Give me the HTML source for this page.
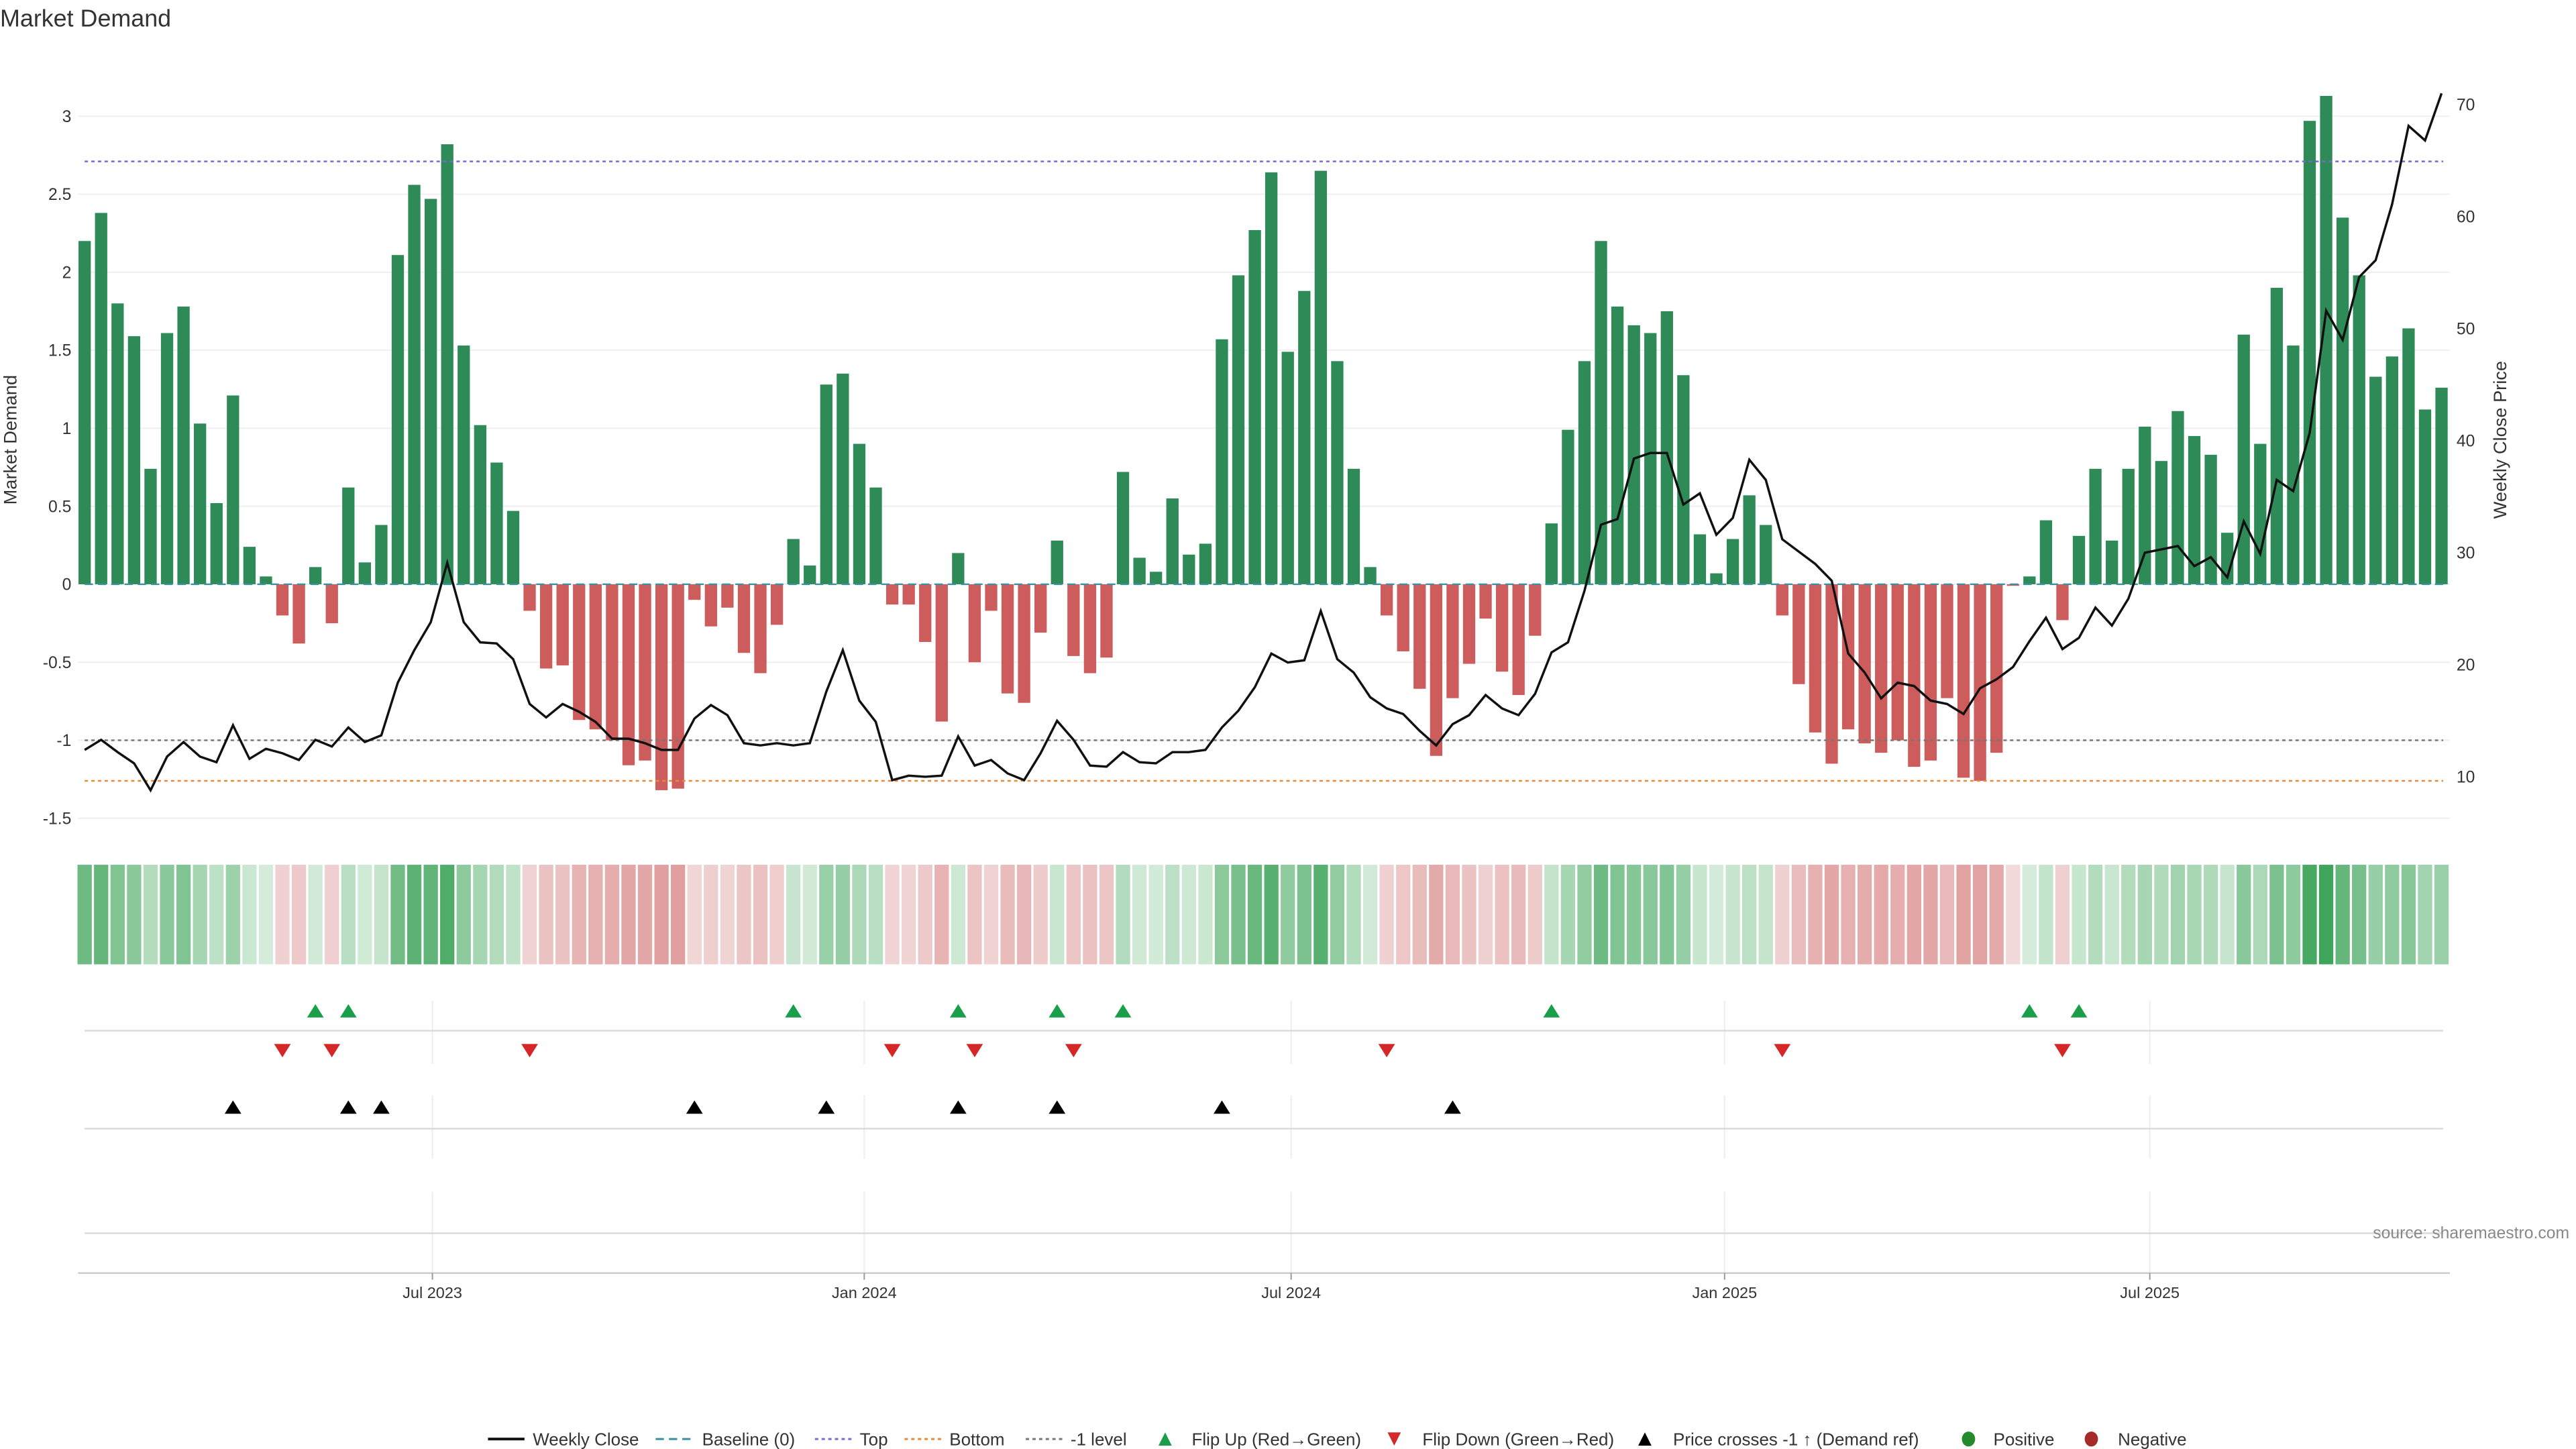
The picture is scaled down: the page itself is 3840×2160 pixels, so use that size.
<!DOCTYPE html>
<html><head><meta charset="utf-8"><style>
html,body{margin:0;padding:0;background:#fff;}
svg{display:block;font-family:"Liberation Sans","DejaVu Sans",sans-serif;}
</style></head><body>
<svg id="chart" width="3840" height="2160" viewBox="0 0 1552 873" xmlns="http://www.w3.org/2000/svg">
<text x="0" y="16" font-size="14.5" fill="#333">Market Demand</text>
<g id="grid"></g><g id="bars"></g><g id="lines"></g><g id="heat"></g><g id="panels"></g><g id="axes"></g><g id="legend"></g>
<text x="1548" y="746" font-size="10" fill="#888" text-anchor="end">source: sharemaestro.com</text>
</svg>
<script>
const demand=[2.2,2.38,1.8,1.59,0.74,1.61,1.78,1.03,0.52,1.21,0.24,0.05,-0.2,-0.38,0.11,-0.25,0.62,0.14,0.38,2.11,2.56,2.47,2.82,1.53,1.02,0.78,0.47,-0.17,-0.54,-0.52,-0.87,-0.93,-1.0,-1.16,-1.13,-1.32,-1.31,-0.1,-0.27,-0.15,-0.44,-0.57,-0.26,0.29,0.12,1.28,1.35,0.9,0.62,-0.13,-0.13,-0.37,-0.88,0.2,-0.5,-0.17,-0.7,-0.76,-0.31,0.28,-0.46,-0.57,-0.47,0.72,0.17,0.08,0.55,0.19,0.26,1.57,1.98,2.27,2.64,1.49,1.88,2.65,1.43,0.74,0.11,-0.2,-0.43,-0.67,-1.1,-0.73,-0.51,-0.22,-0.56,-0.71,-0.33,0.39,0.99,1.43,2.2,1.78,1.66,1.61,1.75,1.34,0.32,0.07,0.29,0.57,0.38,-0.2,-0.64,-0.95,-1.15,-0.93,-1.02,-1.08,-1.0,-1.17,-1.13,-0.73,-1.24,-1.26,-1.08,-0.01,0.05,0.41,-0.23,0.31,0.74,0.28,0.74,1.01,0.79,1.11,0.95,0.83,0.33,1.6,0.9,1.9,1.53,2.97,3.13,2.35,1.98,1.33,1.46,1.64,1.12,1.26];
const price=[12.4,13.3,12.2,11.2,8.8,11.8,13.1,11.8,11.3,14.6,11.6,12.5,12.1,11.5,13.3,12.7,14.4,13.1,13.7,18.4,21.3,23.8,29.1,23.8,22.0,21.9,20.5,16.5,15.3,16.5,15.8,14.9,13.4,13.4,13.0,12.4,12.4,15.2,16.4,15.5,13.0,12.8,13.0,12.8,13.0,17.6,21.3,16.8,14.9,9.7,10.1,10.0,10.1,13.6,11.0,11.5,10.3,9.7,12.1,15.0,13.3,11.0,10.9,12.2,11.3,11.2,12.2,12.2,12.4,14.4,15.9,18.0,21.0,20.2,20.4,24.8,20.5,19.3,17.1,16.1,15.6,14.1,12.8,14.7,15.5,17.3,16.1,15.5,17.4,21.1,22.0,26.6,32.5,33.0,38.4,38.9,38.9,34.3,35.3,31.6,33.1,38.3,36.5,31.2,30.1,29.0,27.5,21.0,19.3,17.0,18.4,18.1,16.8,16.5,15.6,17.9,18.7,19.8,22.1,24.2,21.4,22.4,25.1,23.5,25.9,30.0,30.3,30.6,28.8,29.6,27.8,32.8,29.9,36.5,35.5,40.7,51.6,49.0,54.6,56.1,61.1,68.1,66.8,71.0];
const leftTicks=[-1.5,-1,-0.5,0,0.5,1,1.5,2,2.5,3];
const rightTicks=[10,20,30,40,50,60,70];
const monthLabels=["Jul 2023","Jan 2024","Jul 2024","Jan 2025","Jul 2025"];
const monthWeek=[21.1,47.3,73.2,99.5,125.3];
const topLevel=2.71, bottomLevel=-1.26, minusLevel=-1.0, priceRef=13.5;

const NS="http://www.w3.org/2000/svg";
function mk(parent,tag,attrs){const e=document.createElementNS(NS,tag);for(const k in attrs)e.setAttribute(k,attrs[k]);document.getElementById(parent).appendChild(e);return e;}
const xs=i=>51+i*9.93;
const yL=v=>352-94*v;
const yR=p=>333-6.75*(p-30);
const X0=47,X1=1476;

// grid + left ticks
leftTicks.forEach(t=>{
 const g=mk('grid','line',{x1:X0,x2:X1,y1:yL(t),y2:yL(t),stroke:'#efeff3','stroke-width':0.8});
 
 
 const tx=mk('axes','text',{x:43,y:yL(t)+3.5,'font-size':10,fill:'#333','text-anchor':'end'});
 tx.textContent=String(t);
 
 
});
rightTicks.forEach(t=>{
 const tx=mk('axes','text',{x:1480,y:yR(t)+3.5,'font-size':10,fill:'#333'});
 tx.textContent=String(t);
 
 
});
let t1=mk('axes','text',{x:10,y:265,'font-size':11,fill:'#333','text-anchor':'middle',transform:'rotate(-90 10 265)'});t1.textContent='Market Demand';


let t2=mk('axes','text',{x:1510,y:265,'font-size':11,fill:'#333','text-anchor':'middle',transform:'rotate(-90 1510 265)'});t2.textContent='Weekly Close Price';



// bars
demand.forEach((v,i)=>{
 const y=Math.min(yL(v),yL(0)),h=Math.abs(yL(v)-yL(0));
 const r=mk('bars','rect',{x:xs(i)-3.7,y:y,width:7.4,height:Math.max(h,0.3),fill:v>=0?'#2e8b57':'#cd5c5c'});
 
 
});
// reference lines
function hline(v,color,dash,name){const l=mk('lines','line',{x1:X0+4,x2:X1-4,y1:yL(v),y2:yL(v),stroke:color,'stroke-width':1,'stroke-dasharray':dash});
 
 }
hline(0,'#3a8fa3','5 3','baseline-line');
hline(topLevel,'#7b68d6','2 2','top-line');
hline(bottomLevel,'#e8893a','2 2','bottom-line');
hline(minusLevel,'#777','2 2','minus-one-line');
// price line
const pl=mk('lines','polyline',{points:price.map((p,i)=>xs(i)+','+yR(p)).join(' '),fill:'none',stroke:'#111','stroke-width':1.4});



// heat strip
demand.forEach((v,i)=>{
 const a=Math.min(1,Math.abs(v)/3.13);
 let c;
 if(v>=0){c=`rgb(${Math.round(214-150*a)},${Math.round(237-72*a)},${Math.round(219-127*a)})`;}
 else{c=`rgb(${Math.round(242-40*a*1.0)},${Math.round(218-140*a)},${Math.round(218-140*a)})`;}
 const r=mk('heat','rect',{x:xs(i)-4.3,y:521,width:8.6,height:60,fill:c});
 
 
});

// panels
monthWeek.forEach((w,k)=>{
 [[603,641],[660,698],[718,767]].forEach(s=>{
  const l=mk('panels','line',{x1:xs(w),x2:xs(w),y1:s[0],y2:s[1],stroke:'#eef0f2','stroke-width':1});
  
  
 });
 const tk=mk('axes','line',{x1:xs(w),x2:xs(w),y1:767,y2:771,stroke:'#999','stroke-width':0.8});
 
 
 const tx=mk('axes','text',{x:xs(w),y:782,'font-size':9.5,fill:'#333','text-anchor':'middle'});
 tx.textContent=monthLabels[k];
 
 
});
[621,680,743].forEach(y=>{const l=mk('panels','line',{x1:51,x2:1472,y1:y,y2:y,stroke:'#d8dcdf','stroke-width':1});
 
 });
const ax=mk('panels','line',{x1:X0,x2:X1,y1:767,y2:767,stroke:'#ccc','stroke-width':1});



function tri(x,y,up,color,name){const p=up?`${x-5},${y+4} ${x+5},${y+4} ${x},${y-4}`:`${x-5},${y-4} ${x+5},${y-4} ${x},${y+4}`;
 const t=mk('panels','polygon',{points:p,fill:color});
 
 }
for(let i=1;i<demand.length;i++){
 if(demand[i-1]<0&&demand[i]>=0)tri(xs(i),609,true,'#1a9e4a','flip-up-marker');
 if(demand[i-1]>=0&&demand[i]<0)tri(xs(i),633,false,'#d62728','flip-down-marker');
 if(price[i-1]<priceRef&&price[i]>=priceRef)tri(xs(i),667,true,'#000','price-cross-marker');
}

// legend
const L=867;
function lline(x,color,dash,w){const l=mk('legend','line',{x1:x,x2:x+22,y1:L,y2:L,stroke:color,'stroke-width':w,'stroke-dasharray':dash});return l;}
function ltext(x,s){const t=mk('legend','text',{x:x,y:L+3.8,'font-size':10.5,fill:'#333'});t.textContent=s;return t;}
let e;
e=lline(294,'#111','',1.6);ltext(321,'Weekly Close');
e=lline(395,'#3a8fa3','5 3',1.2);ltext(423,'Baseline (0)');
e=lline(491,'#7b68d6','2 2',1.2);ltext(518,'Top');
e=lline(545,'#e8893a','2 2',1.2);ltext(572,'Bottom');
e=lline(618,'#777','2 2',1.2);ltext(645,'-1 level');
e=mk('legend','polygon',{points:'698,871 706,871 702,863',fill:'#1a9e4a'});ltext(718,'Flip Up (Red\u2192Green)');
e=mk('legend','polygon',{points:'836,863 844,863 840,871',fill:'#d62728'});ltext(857,'Flip Down (Green\u2192Red)');
e=mk('legend','polygon',{points:'987,871 995,871 991,863',fill:'#000'});ltext(1008,'Price crosses -1 \u2191 (Demand ref)');
e=mk('legend','ellipse',{cx:1186,cy:L,rx:4,ry:4.5,fill:'#238b2e'});ltext(1201,'Positive');
e=mk('legend','ellipse',{cx:1260,cy:L,rx:4,ry:4.5,fill:'#a52a2a'});ltext(1276,'Negative');
</script>
</body></html>
